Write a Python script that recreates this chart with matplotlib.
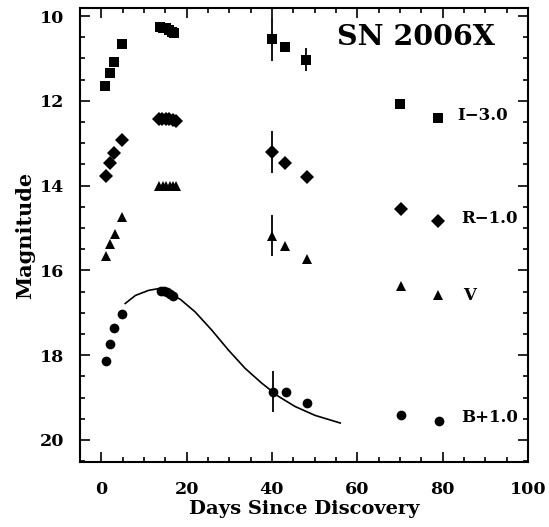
import numpy as np
import matplotlib
matplotlib.use('Agg')
import matplotlib.pyplot as plt
from matplotlib.ticker import MultipleLocator

plt.rcParams['font.family'] = ['DejaVu Serif']
plt.rcParams['font.weight'] = 'bold'

# I band (shifted by -3.0), squares
i_days = [0.9, 1.95, 2.9, 4.8, 13.7, 14.4, 15.1, 15.8, 16.5, 17.1, 40.0, 43.0, 48.0, 70.0, 79.0]
i_mag = [11.64, 11.35, 11.08, 10.66, 10.26, 10.27, 10.29, 10.33, 10.37, 10.41, 10.55, 10.73, 11.03, 12.07, 12.40]
i_err = [0, 0, 0, 0, 0, 0, 0, 0, 0, 0, 0.5, 0, 0.27, 0, 0]

# R band (shifted by -1.0), diamonds
r_days = [1.1, 1.95, 2.9, 4.85, 13.5, 14.3, 15.1, 15.9, 16.7, 17.5, 40.05, 43.0, 48.2, 70.2, 79.0]
r_mag = [13.77, 13.47, 13.24, 12.93, 12.44, 12.43, 12.43, 12.44, 12.46, 12.48, 13.21, 13.46, 13.79, 14.55, 14.83]
r_err = [0, 0, 0, 0, 0, 0, 0, 0, 0, 0, 0.49, 0, 0, 0, 0]

# V band, triangles
v_days = [1.1, 1.95, 3.1, 4.85, 13.6, 14.4, 15.2, 16.0, 16.8, 17.6, 40.05, 43.1, 48.2, 70.2, 79.0]
v_mag = [15.66, 15.38, 15.14, 14.75, 14.02, 14.01, 14.01, 14.01, 14.01, 14.02, 15.18, 15.43, 15.73, 16.37, 16.59]
v_err = [0, 0, 0, 0, 0, 0, 0, 0, 0, 0, 0.49, 0, 0, 0, 0]

# B band (shifted by +1.0), circles
b_days = [1.1, 2.1, 3.05, 4.9, 14.0, 14.7, 15.4, 16.1, 16.8, 40.2, 43.25, 48.2, 70.3, 79.2]
b_mag = [18.13, 17.73, 17.37, 17.02, 16.48, 16.49, 16.52, 16.55, 16.60, 18.86, 18.86, 19.13, 19.42, 19.55]
b_err = [0, 0, 0, 0, 0, 0, 0, 0, 0, 0.49, 0, 0, 0, 0]

# template curve for B
curve_days = [5.6, 8.0, 11.1, 13.4, 18.5, 22.0, 25.9, 29.8, 33.7, 37.6, 41.5, 45.4, 50.1, 56.0]
curve_mag = [16.78, 16.59, 16.47, 16.43, 16.68, 16.98, 17.41, 17.88, 18.31, 18.66, 18.97, 19.21, 19.42, 19.60]

labels = ['I\u22123.0', 'R\u22121.0', 'V', 'B+1.0']
label_days = [83.4, 84.4, 84.8, 84.4]
label_mag = [12.35, 14.78, 16.59, 19.48]

fig = plt.figure(figsize=(5.49, 5.27), dpi=100)
ax = fig.add_axes([0.1457, 0.1233, 0.816, 0.8615])

series = [(i_days, i_mag, i_err, 's', 6.6),
          (r_days, r_mag, r_err, 'D', 7.2),
          (v_days, v_mag, v_err, '^', 6.8),
          (b_days, b_mag, b_err, 'o', 7.0)]
for d, m, e, mk, ms in series:
    ax.errorbar(d, m, yerr=e, fmt=mk, color='black', ms=ms, elinewidth=1.3,
                capsize=0, mew=0)

ax.plot(curve_days, curve_mag, color='black', lw=1.2)

for t, d, m in zip(labels, label_days, label_mag):
    ax.text(d, m, t, fontsize=12, fontweight='bold', ha='left', va='center')

ax.text(0.926, 0.965, 'SN 2006X', transform=ax.transAxes, fontsize=20.5,
        fontweight='bold', ha='right', va='top')

ax.set_xlim(-5, 100)
ax.set_ylim(20.52, 9.81)
ax.xaxis.set_major_locator(MultipleLocator(20))
ax.xaxis.set_minor_locator(MultipleLocator(5))
ax.yaxis.set_major_locator(MultipleLocator(2))
ax.yaxis.set_minor_locator(MultipleLocator(0.5))
ax.tick_params(which='both', direction='in', top=True, right=True, width=1.2)
ax.tick_params(which='major', length=7, labelsize=12.6)
ax.tick_params(axis='x', which='major', pad=14)
ax.tick_params(axis='y', which='major', pad=11)
ax.tick_params(which='minor', length=3.5)
for s in ax.spines.values():
    s.set_linewidth(1.5)
for lab in ax.get_xticklabels() + ax.get_yticklabels():
    lab.set_fontweight('bold')

ax.set_xlabel('Days Since Discovery', fontsize=14, fontweight='bold', labelpad=1)
ax.set_ylabel('Magnitude', fontsize=15, fontweight='bold', labelpad=4)

fig.savefig('out.png', dpi=100)
